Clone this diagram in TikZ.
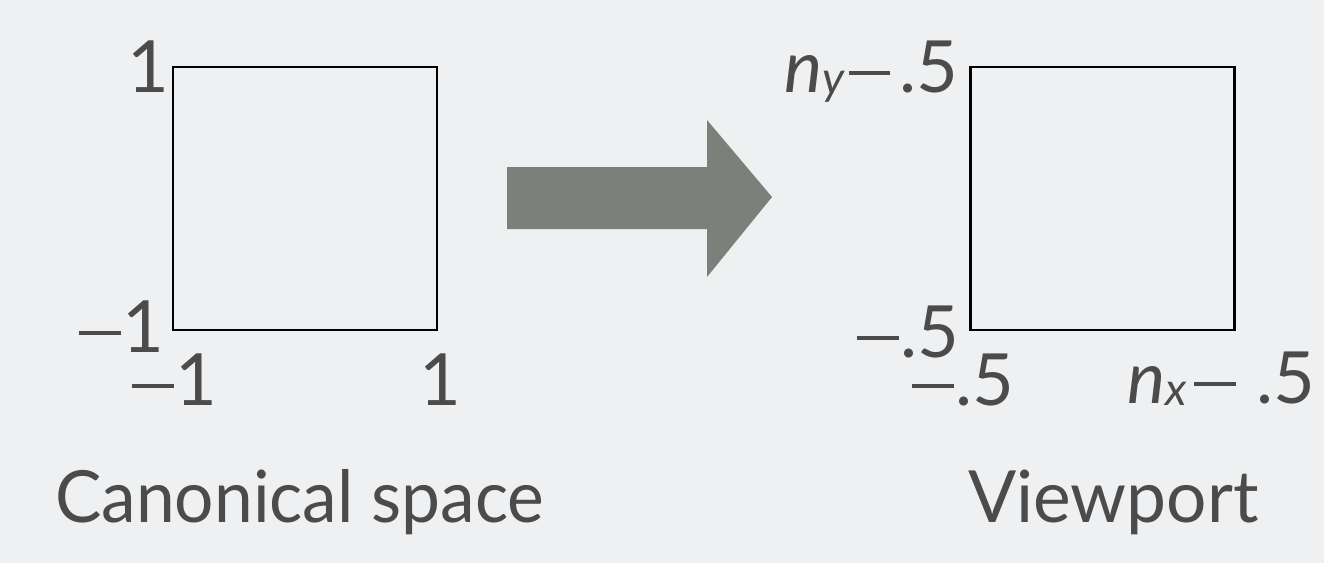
\documentclass[tikz,border=0pt]{standalone}
\usepackage{fontspec}
\setmainfont{Lato}
\definecolor{bg}{HTML}{EFF0F1}
\definecolor{txt}{HTML}{4B4B4B}
\definecolor{arrowgray}{HTML}{7B817A}
\newcommand{\mns}{\rule[0.235em]{0.58em}{0.062em}}
\newcommand{\subx}[1]{\raisebox{-0.03em}{\fontsize{46}{50}\selectfont\itshape #1}}
\begin{document}
\begin{tikzpicture}[x=1pt,y=-1pt,
  lbl/.style={inner sep=0pt, text=txt, font=\fontsize{72}{80}\selectfont},
  sq/.style={draw=black, line width=2.2pt, inner sep=0pt, minimum width=264pt, minimum height=263pt}]
\fill[bg] (0,0) rectangle (1324,563);
\useasboundingbox (0,0) rectangle (1324,563);
% squares
\node[sq] (cs) at (305,198.5) {};
\node[sq] (vp) at (1102.5,198.5) {};
% arrow
\fill[arrowgray] (507,167) -- (707,167) -- (707,120) -- (772,197) -- (707,277) -- (707,229) -- (507,229) -- cycle;
% canonical labels
\node[lbl, anchor=base] (ctop) at (148,92) {1};
\node[lbl, anchor=base east] (cleft) at (164,352) {\mns\kern0.02em 1};
\node[lbl, anchor=base east] (cbl) at (217,405) {\mns\kern0.02em 1};
\node[lbl, anchor=base] (cbr) at (440,405) {1};
% viewport labels
\node[lbl, anchor=base east] (vtop) at (958,92) {\itshape n\subx{y}\upshape\kern0.06em\mns\kern0.12em.5};
\node[lbl, anchor=base east] (vleft) at (959,357) {\mns\kern0.02em.5};
\node[lbl, anchor=base east] (vbl) at (1014,405) {\mns\kern0.02em.5};
\node[lbl, anchor=base east] (vbr) at (1315,403) {\itshape n\subx{x}\upshape\kern0.1em\mns\kern0.28em.5};
% captions
\node[lbl, anchor=base west] (cap1) at (55,522) {\scalebox{0.965}[1]{Canonical space}};
\node[lbl, anchor=base west] (cap2) at (968,522) {\scalebox{0.99}[1]{Viewport}};
\end{tikzpicture}
\end{document}
